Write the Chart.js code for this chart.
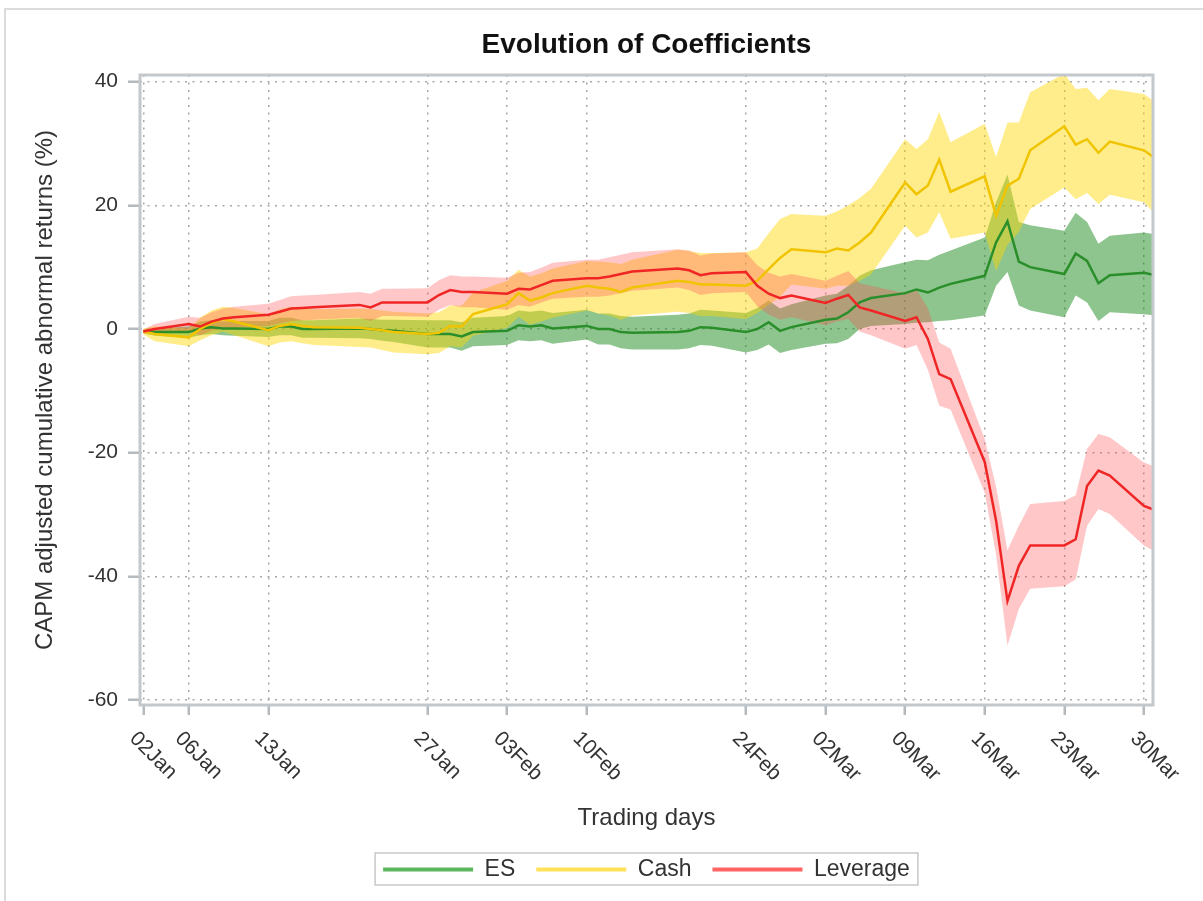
<!DOCTYPE html>
<html><head><meta charset="utf-8">
<script src="https://cdn.jsdelivr.net/npm/chart.js@4.4.1/dist/chart.umd.min.js"></script>
<style>
html,body{margin:0;padding:0;background:#fff;}
#wrap{position:relative;width:1203px;height:901px;overflow:hidden;background:#fff;}
#frame{position:absolute;left:4px;top:8px;width:1300px;height:1000px;border-left:2px solid #dcdcdc;border-top:2px solid #dcdcdc;}
canvas{position:absolute;left:0;top:0;}
</style></head>
<body><div id="wrap"><div id="frame"></div><canvas id="c" width="1203" height="901"></canvas></div>
<script>
// ---- data ----
const dates = [
 "2020-01-02","2020-01-03","2020-01-06","2020-01-07","2020-01-08","2020-01-09","2020-01-10",
 "2020-01-13","2020-01-14","2020-01-15","2020-01-16","2020-01-17",
 "2020-01-21","2020-01-22","2020-01-23","2020-01-24",
 "2020-01-27","2020-01-28","2020-01-29","2020-01-30","2020-01-31",
 "2020-02-03","2020-02-04","2020-02-05","2020-02-06","2020-02-07",
 "2020-02-10","2020-02-11","2020-02-12","2020-02-13","2020-02-14",
 "2020-02-18","2020-02-19","2020-02-20","2020-02-21",
 "2020-02-24","2020-02-25","2020-02-26","2020-02-27","2020-02-28",
 "2020-03-02","2020-03-03","2020-03-04","2020-03-05","2020-03-06",
 "2020-03-09","2020-03-10","2020-03-11","2020-03-12","2020-03-13",
 "2020-03-16","2020-03-17","2020-03-18","2020-03-19","2020-03-20",
 "2020-03-23","2020-03-24","2020-03-25","2020-03-26","2020-03-27",
 "2020-03-30","2020-03-31"];

const tickDates = ["2020-01-02","2020-01-06","2020-01-13","2020-01-27","2020-02-03","2020-02-10",
 "2020-02-24","2020-03-02","2020-03-09","2020-03-16","2020-03-23","2020-03-30"];
const tickLabels = ["02Jan","06Jan","13Jan","27Jan","03Feb","10Feb","24Feb","02Mar","09Mar","16Mar","23Mar","30Mar"];
const yTicks = [-60,-40,-20,0,20,40];

const esMean = [-0.4,-0.5,-0.5,0.1,0.3,0.1,0.1, 0.0,0.4,0.4,0.0,0.0, 0.1,0.0,-0.2,-0.3, -0.8,-0.8,-0.8,-1.2,-0.5,
 -0.3,0.6,0.4,0.6,0.1, 0.5,0.0,0.0,-0.5,-0.6, -0.5,-0.3,0.3,0.2, -0.5,0.0,1.1,-0.3,0.3,
 1.5,1.7,2.7,4.3,5.0, 5.8,6.4,5.9,6.7,7.3, 8.6,14.0,17.4,10.9,10.0, 8.9,12.2,11.0,7.4,8.7, 9.1,8.7];
const esUpper = [-0.1,0.1,0.4,1.2,1.4,1.2,1.3, 1.3,1.8,1.8,1.4,1.4, 1.7,1.6,1.5,1.5, 1.4,1.4,1.4,1.1,1.8,
 2.1,3.0,2.8,3.0,2.6, 3.1,2.5,2.5,2.1,2.0, 2.3,2.5,3.1,3.0, 2.6,3.4,4.6,3.3,4.0,
 5.4,5.7,7.0,8.6,9.5, 10.8,11.2,11.1,12.0,12.7, 14.8,20.5,25.0,17.3,16.8, 15.9,18.8,17.3,13.8,15.1, 15.6,15.3];
const esLower = [-0.7,-1.1,-1.4,-1.0,-0.8,-1.0,-1.1, -1.3,-1.0,-1.0,-1.4,-1.4, -1.5,-1.6,-1.9,-2.1, -3.0,-3.0,-3.0,-3.5,-2.8,
 -2.6,-1.8,-2.0,-1.8,-2.4, -1.7,-2.5,-2.5,-3.1,-3.3, -3.3,-3.1,-2.6,-2.7, -3.8,-3.4,-2.5,-3.9,-3.4,
 -2.4,-2.3,-1.6,0.0,0.5, 0.8,1.0,1.1,1.3,1.4, 2.2,7.0,9.2,3.8,3.0, 1.9,5.4,4.3,1.3,2.7, 2.4,2.2];

const cashMean = [-0.4,-0.8,-1.35,0.0,1.0,1.6,1.2, -0.2,0.5,0.8,0.5,0.3, 0.2,0.0,-0.2,-0.5, -0.8,-0.6,0.5,0.4,2.4,
 4.0,5.8,4.6,5.1,5.8, 7.0,6.7,6.5,6.0,6.7, 7.8,7.6,7.2,7.2, 7.0,7.8,9.7,11.5,12.9,
 12.4,13.0,12.7,14.0,15.6, 23.7,21.8,23.2,27.4,22.2, 24.7,18.3,23.2,24.3,28.9, 32.8,29.8,30.7,28.5,30.3, 28.9,27.6];
const cashUpper = [0.1,0.4,0.1,1.8,3.0,3.6,3.4, 2.4,3.2,3.6,3.3,3.2, 3.3,3.2,3.0,2.8, 2.5,2.7,3.8,3.8,5.9,
 7.8,9.6,8.5,9.0,9.8, 11.0,10.9,10.8,10.5,11.2, 12.8,12.6,12.3,12.3, 12.4,13.0,15.5,17.8,18.6,
 18.3,19.0,20.0,21.2,22.7, 30.7,29.1,30.7,35.1,30.2, 33.2,27.8,33.4,33.4,38.3, 41.3,38.8,39.0,37.0,38.8, 38.0,36.7];
const cashLower = [-0.9,-2.0,-2.8,-1.8,-1.0,-0.4,-1.0, -2.8,-2.2,-2.0,-2.3,-2.6, -2.9,-3.0,-3.4,-3.8, -4.1,-3.9,-2.8,-3.0,-1.1,
 0.2,2.0,0.7,1.2,1.8, 3.0,2.5,2.2,1.5,2.2, 2.8,2.6,2.1,2.1, 1.6,2.6,3.9,5.2,7.2,
 6.5,7.0,7.0,7.8,8.8, 16.7,14.8,15.6,18.9,14.6, 15.6,9.4,13.6,15.7,19.4, 22.9,21.0,22.0,20.2,21.7, 20.5,18.6];

const levMean = [-0.4,0.0,0.8,0.4,1.2,1.7,1.9, 2.3,2.8,3.3,3.4,3.5, 3.9,3.5,4.3,4.3, 4.3,5.5,6.3,6.0,6.0,
 5.7,6.5,6.4,7.1,7.8, 8.2,8.2,8.5,8.9,9.3, 9.8,9.5,8.7,9.0, 9.2,7.0,5.7,5.0,5.4,
 4.2,4.9,5.5,3.5,3.0, 1.3,1.9,-1.6,-7.3,-8.1, -21.5,-31.0,-44.0,-38.3,-35.0, -35.0,-34.0,-25.4,-22.9,-23.7, -28.6,-29.3];
const levUpper = [-0.1,0.8,2.0,1.8,2.7,3.3,3.6, 4.1,4.7,5.3,5.4,5.5, 6.0,5.7,6.5,6.5, 6.6,7.9,8.7,8.5,8.5,
 8.3,9.1,9.2,9.9,10.7, 11.2,11.2,11.6,12.0,12.4, 12.9,12.7,11.9,12.2, 12.4,10.3,9.1,8.5,8.9,
 7.8,8.6,9.4,7.4,7.0, 5.8,6.4,3.4,-2.2,-3.2, -17.8,-25.5,-35.8,-31.8,-28.3, -27.8,-26.9,-19.4,-17.0,-17.5, -21.6,-22.3];
const levLower = [-0.7,-0.8,-0.4,-1.0,-0.3,0.1,0.2, 0.5,0.9,1.3,1.4,1.5, 1.8,1.3,2.1,2.1, 2.0,3.1,3.9,3.5,3.5,
 3.1,3.9,3.6,4.3,4.9, 5.2,5.2,5.4,5.8,6.2, 6.7,6.3,5.5,5.8, 6.0,3.7,2.3,1.5,1.9,
 0.6,1.2,1.6,-0.4,-1.0, -3.2,-2.6,-6.6,-12.4,-13.0, -26.5,-36.5,-51.2,-45.3,-42.0, -41.6,-40.5,-31.8,-29.1,-29.9, -35.0,-36.0];

// ---- helpers ----
const DAY = 86400000;
const T0 = Date.UTC(2020,0,2);
function dayIndex(s){ const p = s.split('-').map(Number); return (Date.UTC(p[0],p[1]-1,p[2]) - T0)/DAY; }
const xs = dates.map(dayIndex);
const pts = arr => arr.map((v,i)=>({x: xs[i], y: v}));

const FONT = '"Liberation Sans", Arial, Helvetica, sans-serif';
Chart.defaults.font.family = FONT;
Chart.defaults.color = '#333';

const band = (data, color, order, fill) => ({
  data: pts(data), borderWidth: 0, pointRadius: 0, backgroundColor: color,
  fill: fill, order: order, tension: 0, isBand: true
});
const line = (label, data, color, legendColor, order) => ({
  label, data: pts(data), borderColor: color, borderWidth: 2.5, pointRadius: 0,
  fill: false, order, tension: 0, legendColor
});

const frameAndLabels = {
  id: 'frameAndLabels',
  afterDraw(chart){
    const ctx = chart.ctx, a = chart.chartArea, sc = chart.scales.x;
    ctx.save();
    // plot frame
    ctx.strokeStyle = '#c3c8cc'; ctx.lineWidth = 3;
    ctx.strokeRect(a.left, a.top, a.right - a.left, a.bottom - a.top);
    // rotated x tick labels
    ctx.font = '21px ' + FONT; ctx.fillStyle = '#333';
    ctx.textAlign = 'left'; ctx.textBaseline = 'top';
    sc.ticks.forEach((t,i)=>{
      const px = sc.getPixelForValue(t.value);
      ctx.save();
      ctx.translate(px - 3, a.bottom + 23);
      ctx.rotate(Math.PI/4);
      ctx.fillText(tickLabels[i], 0, 0);
      ctx.restore();
    });
    // legend frame
    const hb = chart.legend && chart.legend.legendHitBoxes;
    if (hb && hb.length){
      const l = Math.min(...hb.map(h=>h.left)), r = Math.max(...hb.map(h=>h.left+h.width));
      const t = hb[0].top;
      ctx.strokeStyle = '#c8c8c8'; ctx.lineWidth = 1.5;
      ctx.strokeRect(l - 8, t - 5, (r - l) + 16, 32);
    }
    ctx.restore();
  }
};

new Chart(document.getElementById('c'), {
  type: 'line',
  data: { datasets: [
    band(esLower,  'rgba(30,140,30,0.5)', 6, false),
    band(esUpper,  'rgba(30,140,30,0.5)', 6, '-1'),
    band(cashLower,'rgba(255,215,0,0.45)', 5, false),
    band(cashUpper,'rgba(255,215,0,0.45)', 5, '-1'),
    band(levLower, 'rgba(255,80,80,0.32)', 4, false),
    band(levUpper, 'rgba(255,80,80,0.32)', 4, '-1'),
    line('ES', esMean, '#2a8f2a', '#5cb85c', 2),
    line('Cash', cashMean, '#f0c400', '#ffe15a', 1),
    line('Leverage', levMean, '#f02626', '#ff6464', 0)
  ]},
  options: {
    responsive: false, animation: false, devicePixelRatio: 1,
    layout: { padding: { left: 0, right: 50, top: 0, bottom: 10 } },
    plugins: {
      tooltip: { enabled: false },
      title: { display: true, fullSize: false, text: 'Evolution of Coefficients', color: '#111',
        font: { size: 28, weight: 'bold', family: FONT }, padding: { top: 28.2, bottom: 13.2 } },
      legend: {
        position: 'bottom', fullSize: false,
        labels: {
          boxWidth: 90, boxHeight: 4, padding: 21, color: '#333',
          font: { size: 23, family: FONT },
          sort: (a, b) => a.datasetIndex - b.datasetIndex,
          filter: (item, data) => !data.datasets[item.datasetIndex].isBand,
          generateLabels: (chart) => {
            const items = Chart.defaults.plugins.legend.labels.generateLabels(chart);
            items.forEach(it => {
              const ds = chart.data.datasets[it.datasetIndex];
              it.fillStyle = ds.legendColor; it.strokeStyle = ds.legendColor; it.lineWidth = 0;
            });
            return items;
          }
        }
      }
    },
    scales: {
      x: {
        type: 'linear', min: -0.29, max: 88.8,
        afterBuildTicks: (s) => { s.ticks = tickDates.map(d => ({ value: dayIndex(d) })); },
        afterFit: (s) => { s.height = 132; },
        ticks: { display: false },
        grid: { color: '#a8a8a8', lineWidth: 1.5, drawTicks: true, tickLength: 10,
                tickColor: '#b5babe', tickWidth: 2.5 },
        border: { display: false, dash: [2, 5.5] },
        title: { display: true, text: 'Trading days', color: '#333',
                 font: { size: 24, family: FONT }, padding: { top: 0, bottom: 4 } }
      },
      y: {
        type: 'linear', min: -60.81, max: 41.08,
        afterBuildTicks: (s) => { s.ticks = yTicks.map(v => ({ value: v })); },
        afterFit: (s) => { s.width = 140; },
        ticks: { color: '#333', font: { size: 21, family: FONT }, padding: 10 },
        grid: { color: '#a8a8a8', lineWidth: 1.5, drawTicks: true, tickLength: 12,
                tickColor: '#b5babe', tickWidth: 2.5 },
        border: { display: false, dash: [2, 5.5] },
        title: { display: true, text: 'CAPM adjusted cumulative abnormal returns (%)', color: '#333',
                 font: { size: 24, family: FONT }, padding: { top: 30.6, bottom: 0 } }
      }
    }
  },
  plugins: [frameAndLabels]
});
</script>
</body></html>
